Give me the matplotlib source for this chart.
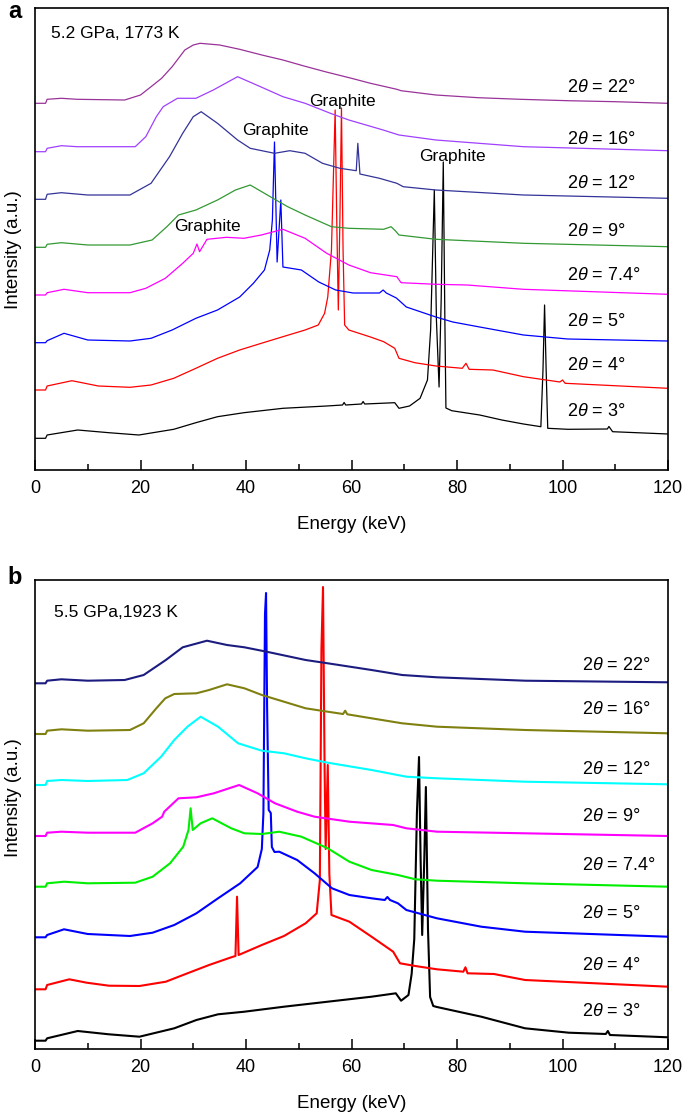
import matplotlib
matplotlib.use('Agg')
import matplotlib.pyplot as plt
from matplotlib.ticker import MultipleLocator

plt.rcParams['font.family'] = ['Liberation Sans', 'DejaVu Sans']
plt.rcParams['mathtext.fontset'] = 'custom'
plt.rcParams['mathtext.rm'] = 'Liberation Sans'
plt.rcParams['mathtext.it'] = 'Liberation Sans:italic'

# ---- panel a: 5.2 GPa, 1773 K  (energy in keV, intensity in a.u., curves already offset)
e_a3 = [0, 2, 2.3, 8.1, 14, 19.7, 26.3, 30.5, 34.6, 39.6, 47, 55.3, 58.3, 58.6, 58.9, 61.9, 62.2, 62.5,
        68.2, 69, 71, 73, 74.4, 75.0, 75.4, 75.7, 76.1, 76.6, 77.0, 77.4, 77.7, 77.9, 79, 84.3, 88.5,
        92.6, 95.9, 96.3, 96.6, 96.9, 97.2, 101, 108.5, 108.8, 109.5, 120]
i_a3 = [31.7, 31.7, 35, 40, 37.3, 35, 40.7, 47.3, 53.3, 57.3, 61.7, 64, 65, 67.5, 65, 66, 68.5, 66,
        67.3, 61.7, 64, 71.7, 90, 140, 220, 280, 150, 83, 170, 308, 150, 62, 59.3, 55, 50,
        46, 43.3, 100, 165, 100, 41.7, 40.7, 41, 43.5, 38.3, 36]

e_a4 = [0, 2, 2.3, 7, 12, 18, 22, 26.3, 30.5, 34.6, 38.8, 42.9, 47, 51.2, 53.7, 54.9, 55.5, 56.2,
        56.6, 56.9, 57.2, 57.5, 57.8, 58.1, 58.4, 58.7, 59.5, 63.6, 66.1, 68.2, 69, 72, 76, 81, 81.7,
        82.3, 86.8, 92.6, 99.5, 100, 100.5, 120]
i_a4 = [80, 80, 84, 89.3, 84, 82.7, 85, 91.7, 101.7, 111.7, 120, 126.7, 133.3, 140, 145, 156.7, 173, 220,
        300, 360, 250, 160, 250, 362, 220, 145, 140, 133, 128.3, 121.7, 111.7, 107.3, 104, 101.7, 106.7,
        100.7, 100, 93.3, 88, 90, 86.7, 81.7]

e_a5 = [0, 2, 2.3, 5.5, 10, 18, 22, 26, 30.5, 34.6, 38.8, 41.4, 43.5, 44.5, 45.0, 45.4, 45.9, 46.6,
        47.0, 50.5, 53.8, 57, 60.3, 65.3, 66, 66.6, 68.5, 70.4, 76, 79.2, 84.3, 92.6, 101, 120]
i_a5 = [127.3, 127.3, 129.3, 136.7, 130, 129, 131.7, 140, 151.7, 160, 173, 186.7, 200, 220, 250, 328, 208, 270,
        203, 200, 188, 180, 177, 177, 180, 177, 172, 163, 153, 148, 143, 135, 131, 129]

e_a74 = [0, 2, 2.3, 5.5, 10, 18, 21, 24.7, 28, 30, 30.7, 31.2, 32.6, 36.3, 39.6, 42.9, 47, 51.2,
         55.3, 59.5, 63.6, 68.6, 69.4, 76, 81.9, 92.6, 120]
i_a74 = [175, 175, 177.3, 180.7, 177.3, 177.3, 181.7, 191.7, 206.7, 216.7, 226, 218.3, 230.7, 232.7, 231.7, 235, 240.7, 231.7,
         216.7, 205, 197.3, 193.3, 187.3, 185.7, 185, 180.7, 175.7]

e_a9 = [0, 2, 2.3, 5, 10, 18, 22.2, 25, 27.2, 30.5, 34.6, 38, 40.8, 44.6, 47.9, 51.2, 56.2, 59.5,
        66.1, 67.5, 68.3, 69, 76, 92.6, 120]
i_a9 = [222.7, 222.7, 225.7, 227.3, 225, 225, 230, 243.3, 255, 260, 270, 280, 285, 273.3, 263.3, 255, 243.3, 241.7,
        240.7, 243.3, 239.3, 235, 230.7, 226.7, 223.3]

e_a12 = [0, 2, 2.3, 5, 10, 18, 22, 25.5, 28, 30, 31.5, 34.6, 38.4, 40.8, 45.4, 48.3, 51.2, 54.5,
         57.8, 60.9, 61.2, 61.6, 65.3, 68.6, 69.8, 76, 92.6, 120]
i_a12 = [270.7, 270.7, 275.7, 277.3, 275, 275, 286.7, 313.3, 336.7, 353.3, 358.3, 346.7, 330, 321.7, 316.7, 319.3, 316.7, 306.7,
         301.7, 299.3, 326.7, 296, 291.7, 286.7, 283.3, 280, 275, 271.7]

e_a16 = [0, 2, 2.3, 5, 8, 19, 21, 23, 24.3, 27, 30.5, 33.8, 38.4, 43, 47, 51.2, 56, 59.5, 66, 69, 76, 92.6, 120]
i_a16 = [318.3, 318.3, 321.7, 324.3, 323.3, 323.3, 333.3, 353.3, 363.3, 371.7, 371.7, 380, 393.3, 382.7, 373.3, 366.7,
         356.7, 350, 340, 335, 330, 323.3, 319.3]

e_a22 = [0, 2, 2.3, 5, 8, 17, 20, 22, 24, 26, 28.4, 30, 31.3, 35, 38.8, 43, 47, 51, 55, 60, 63.6,
         68.6, 69.4, 76, 84, 92, 101, 110, 120]
i_a22 = [366.7, 366.7, 370.7, 371.7, 370.7, 370, 375, 383.3, 391.7, 403.3, 420, 425, 426.7, 425, 420.7, 415, 410, 404,
         398.3, 391.7, 386.7, 380.7, 379.3, 375, 372.3, 370.7, 369.3, 368.3, 366.7]

# ---- panel b: 5.5 GPa, 1923 K
e_b3 = [0, 2, 2.3, 8.1, 14, 19.8, 26.4, 30.6, 34.7, 39.7, 47.2, 55.5, 63.8, 68.4, 69.4, 70.8, 71.4, 71.9,
        72.4, 72.8, 73.1, 73.4, 73.8, 74.1, 74.5, 74.9, 75.5, 76.2, 84.6, 92.9, 101.2, 108.2, 108.6, 109, 120]
i_b3 = [8.3, 8.3, 10.7, 18, 14.7, 12.3, 20.7, 29, 34.7, 37.3, 42.3, 47.3, 52.3, 55.7, 48.3, 54, 75, 110,
        236, 292, 190, 114, 190, 262, 120, 52, 43, 42, 32.3, 20.7, 16.3, 15, 18, 14, 11.7]

e_b4 = [0, 2, 2.3, 6.5, 9.8, 14, 19.8, 24.8, 28.9, 33, 37.2, 38.0, 38.3, 38.6, 43, 47.2, 51.3, 53.4,
        54.0, 54.3, 54.6, 54.9, 55.1, 55.5, 55.8, 56.2, 59.6, 63.8, 67.9, 69.2, 72.1, 76.2, 81.2, 81.6,
        82, 87, 92.9, 120]
i_b4 = [59.7, 59.7, 64, 69.7, 66.3, 63.3, 63, 67.3, 75.7, 84, 91.7, 93, 152.3, 94, 104, 113, 125.7, 135.7,
        169, 400, 462, 280, 200, 284, 175, 134, 127.3, 112.3, 97.3, 85.7, 83, 79.7, 77.3, 81.7,
        75.7, 75, 69, 62.3]

e_b5 = [0, 2, 2.3, 5.5, 10, 18, 22.3, 26.4, 30.6, 34.7, 38.9, 42.2, 43.0, 43.3, 43.6, 43.8, 44.0, 44.3,
        44.7, 44.9, 45.4, 46.3, 49.7, 53, 56.3, 59.6, 63.8, 66.3, 66.8, 67.3, 68.8, 70.4, 76.2, 84.6, 92.9, 120]
i_b5 = [111.7, 111.7, 114, 119.7, 115, 113, 116.3, 124, 135.7, 150.7, 165.7, 182, 200, 236, 435, 456, 342, 239,
        236, 202, 197, 197.3, 189, 175.7, 160.7, 154, 150.7, 149, 152, 149, 145.7, 139, 130.7, 122.3, 117.3, 112.3]

e_b74 = [0, 2, 2.3, 5.5, 10, 19, 22.3, 25.6, 28.1, 29.1, 29.5, 29.9, 31.4, 33.6, 37.2, 39.7, 43, 46.3,
         50.5, 55.5, 59.6, 63.8, 68.8, 72.1, 76.2, 92.9, 120]
i_b74 = [162.3, 162.3, 165.7, 167.3, 165.7, 166.3, 172.3, 185.7, 202.3, 219, 240.7, 219, 225.7, 230.7, 220.7, 215.7, 215, 217.3,
         212.3, 200.7, 187.3, 179, 174, 169.7, 168.3, 165.7, 162.3]

e_b9 = [0, 2, 2.3, 5, 10, 19, 22.3, 24.1, 24.5, 27.2, 30.6, 33.9, 38.7, 42.2, 45.5, 49.7, 53, 59.6,
        67.9, 70.4, 76.2, 92.9, 120]
i_b9 = [213, 213, 216.3, 217.3, 216.3, 216.3, 225.7, 232.3, 237.3, 250.7, 251.7, 255.7, 264, 255.7, 245.7, 237.3, 232.3, 227.3,
        224, 220.7, 217.3, 215.7, 213]

e_b12 = [0, 2, 2.3, 5, 10, 17.5, 20.6, 23.9, 26.4, 28.9, 31.4, 34.7, 38.5, 43, 47.2, 51.3, 55.5, 63.8,
         70.4, 76.2, 92.9, 120]
i_b12 = [264, 264, 268, 269, 268, 269, 275.7, 292.3, 309, 322.3, 332.3, 322.3, 305.7, 298.3, 295.7, 290.7, 286.3, 279,
         272.3, 270.7, 267.3, 264.7]

e_b16 = [0, 2, 2.3, 5, 10, 18, 20.6, 23, 24.7, 26.4, 30.6, 33, 36.4, 39.7, 43, 47.2, 51.3, 55.5, 58.4,
         58.8, 59.2, 63.8, 69.6, 76.2, 92.9, 120]
i_b16 = [315, 315, 318.3, 319.7, 318.3, 319, 325.7, 340.7, 350.7, 355, 355.7, 359, 364.7, 360.7, 354, 347.3, 340.7, 337.3, 335,
         338.3, 334.7, 330.7, 325.7, 322.3, 319, 315.7]

e_b22 = [0, 2, 2.3, 5, 10, 17, 20.6, 24.8, 28, 32.6, 36.4, 39.7, 43.9, 51.3, 55.5, 63.8, 69.6, 76.2, 92.9, 120]
i_b22 = [365.7, 365.7, 368.3, 369.7, 368.3, 369, 374, 389, 401.7, 408.3, 404, 401.7, 397.3, 389, 385.7, 379, 374, 371.7,
         368.3, 366.7]

angles = ['3', '4', '5', '7.4', '9', '12', '16', '22']
label_y_a = [58, 105, 148, 195, 239, 286, 331, 383]
label_y_b = [38, 84, 135.7, 183.3, 232.3, 280, 339, 383]
colors_a = ['black', '#ff0000', '#0000ff', '#ff00ff', '#339933', '#333399', '#a040ff', '#993399']
colors_b = ['black', '#ff0000', '#0000ff', '#00ee00', '#ff00ff', '#00ffff', '#808010', '#1c1c80']

graphite_e = [58.2, 45.6, 79.2, 32.6]
graphite_y = [368.3, 339, 314, 243]

curves_a = [(e_a3, i_a3), (e_a4, i_a4), (e_a5, i_a5), (e_a74, i_a74),
            (e_a9, i_a9), (e_a12, i_a12), (e_a16, i_a16), (e_a22, i_a22)]
curves_b = [(e_b3, i_b3), (e_b4, i_b4), (e_b5, i_b5), (e_b74, i_b74),
            (e_b9, i_b9), (e_b12, i_b12), (e_b16, i_b16), (e_b22, i_b22)]

W, H = 685, 1115
fig = plt.figure(figsize=(W / 100, H / 100), dpi=100)
ax_a = fig.add_axes([35 / W, 1 - 470 / H, 633 / W, 462 / H])
ax_b = fig.add_axes([35 / W, 1 - 1049 / H, 633 / W, 469 / H])


def style(ax, ymax, ylab_y):
    ax.set_xlim(0, 120)
    ax.set_ylim(0, ymax)
    ax.xaxis.set_major_locator(MultipleLocator(20))
    ax.xaxis.set_minor_locator(MultipleLocator(10))
    ax.tick_params(axis='x', which='both', direction='in', top=False, labelsize=13, pad=7, width=1.1)
    ax.tick_params(axis='x', which='major', length=7)
    ax.tick_params(axis='x', which='minor', length=4.5)
    ax.set_yticks([])
    for s in ax.spines.values():
        s.set_linewidth(1.2)
    ax.set_xlabel('Energy (keV)', fontsize=13.5, labelpad=14)
    ax.set_ylabel('Intensity (a.u.)', fontsize=13.5)
    ax.yaxis.set_label_coords(-0.02, ylab_y)


for (e, i), c in zip(curves_a, colors_a):
    ax_a.plot(e, i, color=c, lw=0.9)
for (e, i), c in zip(curves_b, colors_b):
    ax_b.plot(e, i, color=c, lw=1.5)

for a, y in zip(angles, label_y_a):
    ax_a.text(100.9, y, r'2$\mathit{\theta}$ = ' + a + '°', fontsize=13, va='center', ha='left')
for a, y in zip(angles, label_y_b):
    ax_b.text(103.7, y, r'2$\mathit{\theta}$ = ' + a + '°', fontsize=13, va='center', ha='left')

for e, y in zip(graphite_e, graphite_y):
    ax_a.text(e, y, 'Graphite', fontsize=12.5, ha='center', va='center')

ax_a.text(3.0, 437, '5.2 GPa, 1773 K', fontsize=12.5, va='center', ha='left')
ax_b.text(3.6, 436.7, '5.5 GPa,1923 K', fontsize=12.5, va='center', ha='left')

style(ax_a, 462, 0.478)
style(ax_b, 469, 0.537)

fig.text(15 / W, 1 - 12 / H, 'a', fontsize=17, fontweight='bold', ha='center', va='center')
fig.text(15 / W, 1 - 578 / H, 'b', fontsize=17, fontweight='bold', ha='center', va='center')

fig.savefig('out.png', dpi=100)
